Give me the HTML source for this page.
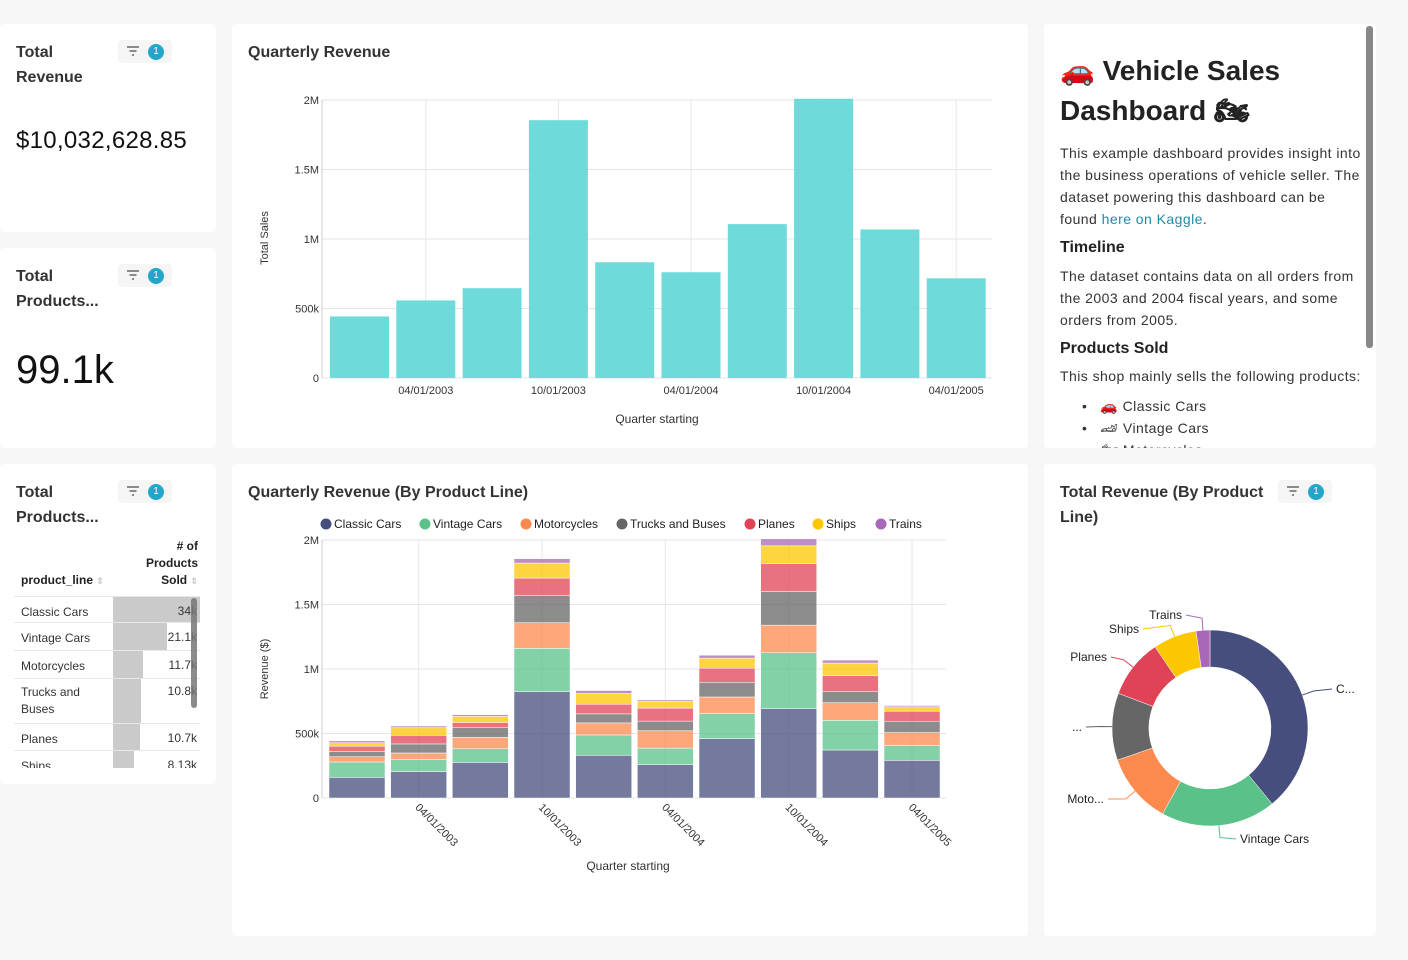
<!DOCTYPE html>
<html><head><meta charset="utf-8">
<style>
*{box-sizing:border-box;margin:0;padding:0}
body{width:1408px;height:960px;background:#f7f7f7;font-family:"Liberation Sans",sans-serif;color:#222;position:relative;overflow:hidden}
.card{position:absolute;background:#fff;border-radius:4px}
.title{position:absolute;font-size:16px;font-weight:bold;line-height:25px;color:#333}
.fbadge{position:absolute;width:54px;height:23px;background:#f5f5f5;border-radius:4px}
.fbadge .fi{position:absolute;left:8px;top:6px;width:14px;height:10px}
.fbadge .num{position:absolute;left:30px;top:4px;width:16px;height:16px;border-radius:50%;background:#20a7c9;color:#fff;font-size:10px;text-align:center;line-height:16px}
.txt{font-size:14px;line-height:22px;color:#333;letter-spacing:0.45px}
svg text{font-family:"Liberation Sans",sans-serif}
.row{position:absolute;left:14px;width:186px;border-bottom:1px solid #e8e8e8;font-size:12px;color:#333}
</style></head><body>

<div class="card" style="left:0;top:24px;width:216px;height:208px">
  <div class="title" style="left:16px;top:16px">Total<br>Revenue</div>
  <div class="fbadge" style="left:118px;top:16px"><svg class="fi" viewBox="0 0 14 10"><path d="M1 1h12M3.5 5h7M6 9h2" stroke="#666" stroke-width="1.6"/></svg><div class="num">1</div></div>
  <div style="position:absolute;left:16px;top:103px;font-size:24px;color:#111;letter-spacing:0.3px">$10,032,628.85</div>
</div>

<div class="card" style="left:0;top:248px;width:216px;height:200px">
  <div class="title" style="left:16px;top:16px">Total<br>Products...</div>
  <div class="fbadge" style="left:118px;top:16px"><svg class="fi" viewBox="0 0 14 10"><path d="M1 1h12M3.5 5h7M6 9h2" stroke="#666" stroke-width="1.6"/></svg><div class="num">1</div></div>
  <div style="position:absolute;left:16px;top:100px;font-size:40px;color:#111">99.1k</div>
</div>

<div class="card" style="left:0;top:464px;width:216px;height:320px;overflow:hidden">
  <div class="title" style="left:16px;top:16px">Total<br>Products...</div>
  <div class="fbadge" style="left:118px;top:16px"><svg class="fi" viewBox="0 0 14 10"><path d="M1 1h12M3.5 5h7M6 9h2" stroke="#666" stroke-width="1.6"/></svg><div class="num">1</div></div>
  <div style="position:absolute;left:21px;top:109px;font-size:12px;font-weight:bold">product_line <span style="color:#ccc;font-size:9px">⇕</span></div>
  <div style="position:absolute;right:18px;top:74px;font-size:12px;font-weight:bold;text-align:right;line-height:17px">#&nbsp;of<br>Products<br>Sold <span style="color:#ccc;font-size:9px">⇕</span></div>
  <div style="position:absolute;left:0;top:0;width:216px;height:304px;overflow:hidden"><div id="rows"></div></div>
  <div style="position:absolute;left:191px;top:134px;width:6px;height:110px;background:#777;border-radius:3px;opacity:0.85"></div>
</div>

<div class="card" style="left:232px;top:24px;width:796px;height:424px">
  <div class="title" style="left:16px;top:16px">Quarterly Revenue</div>
</div>

<div class="card" style="left:1044px;top:24px;width:332px;height:424px;overflow:hidden">
  <div style="position:absolute;left:16px;top:27px;font-size:28px;font-weight:bold;line-height:40px;color:#222">🚗 Vehicle Sales<br>Dashboard 🏍</div>
  <div class="txt" style="position:absolute;left:16px;top:118px;width:304px">This example dashboard provides insight into the business operations of vehicle seller. The dataset powering this dashboard can be found <span style="color:#1f8aa8">here on Kaggle</span>.</div>
  <div style="position:absolute;left:16px;top:215px;font-size:16px;font-weight:bold">Timeline</div>
  <div class="txt" style="position:absolute;left:16px;top:241px;width:304px">The dataset contains data on all orders from the 2003 and 2004 fiscal years, and some orders from 2005.</div>
  <div style="position:absolute;left:16px;top:316px;font-size:16px;font-weight:bold">Products Sold</div>
  <div class="txt" style="position:absolute;left:16px;top:341px;width:310px">This shop mainly sells the following products:</div>
  <div class="txt" style="position:absolute;left:38px;top:371px">•&nbsp;&nbsp;&nbsp;🚗 Classic Cars<br>•&nbsp;&nbsp;&nbsp;🏎 Vintage Cars<br>•&nbsp;&nbsp;&nbsp;🏍 Motorcycles</div>
  <div style="position:absolute;left:322px;top:2px;width:7px;height:322px;background:#888;border-radius:3px"></div>
</div>

<div class="card" style="left:232px;top:464px;width:796px;height:472px">
  <div class="title" style="left:16px;top:16px">Quarterly Revenue (By Product Line)</div>
</div>

<div class="card" style="left:1044px;top:464px;width:332px;height:472px">
  <div class="title" style="left:16px;top:16px">Total Revenue (By Product<br>Line)</div>
  <div class="fbadge" style="left:234px;top:16px"><svg class="fi" viewBox="0 0 14 10"><path d="M1 1h12M3.5 5h7M6 9h2" stroke="#666" stroke-width="1.6"/></svg><div class="num">1</div></div>
</div>

<svg id="chart" width="1408" height="960" style="position:absolute;left:0;top:0"></svg>

<script>
const quarters=["01/01/2003","04/01/2003","07/01/2003","10/01/2003","01/01/2004","04/01/2004","07/01/2004","10/01/2004","01/01/2005","04/01/2005"];
const productLines=["Classic Cars","Vintage Cars","Motorcycles","Trucks and Buses","Planes","Ships","Trains"];
const classicCars=[160,204,276,824,331,258,460,692,372,292];
const vintageCars=[119,96,106,336,158,129,194,434,230,114];
const motorcycles=[41,49,88,199,93,134,129,214,137,101];
const trucksBuses=[41,70,75,212,70,75,114,261,85,88];
const planes=[41,67,41,134,75,101,109,217,124,78];
const ships=[26,59,47,116,83,54,78,137,98,34];
const trains=[15,13,13,34,23,10,23,54,23,10];
const yTicks=[0,500,1000,1500,2000];
const yTickLabels=["0","500k","1M","1.5M","2M"];
const donutValues=[3920,1900,1170,1110,980,720,230];
const donutLabels=["C...","Vintage Cars","Moto...","...","Planes","Ships","Trains"];
const tableNames=["Classic Cars","Vintage Cars","Motorcycles","Trucks and Buses","Planes","Ships"];
const tableValues=[34.0,21.1,11.7,10.8,10.7,8.13];
const tableLabels=["34k","21.1k","11.7k","10.8k","10.7k","8.13k"];

const colors=["#454e7c","#5ac189","#fc8a4f","#666666","#e04355","#fcc700","#a868b7"];
const series=[classicCars,vintageCars,motorcycles,trucksBuses,planes,ships,trains];
const NS="http://www.w3.org/2000/svg";
const svg=document.getElementById('chart');
function mk(tag,attrs,parent){const e=document.createElementNS(NS,tag);for(const k in attrs)e.setAttribute(k,attrs[k]);(parent||svg).appendChild(e);return e;}
function txt(s,attrs,parent){const e=mk('text',attrs,parent);e.textContent=s;return e;}

// ---- Top chart ----
const t1={l:322,r:992,y0:378,y1:100,bl:326,step:66.3,bw:59};
const ty1=v=>t1.y0-v/2000*(t1.y0-t1.y1);
const tx1=i=>t1.bl+i*t1.step+4;
yTicks.forEach((v,k)=>{
  const g=mk('line',{x1:t1.l,x2:t1.r,y1:ty1(v),y2:ty1(v),stroke:'#e6e6e6'});
  
  
  const t=txt(yTickLabels[k],{x:319,y:ty1(v)+4,'font-size':11,'text-anchor':'end',fill:'#333'});
  
  
});
quarters.forEach((q,i)=>{
  const cx=tx1(i)+t1.bw/2;
  if(i%2===1){
    const g=mk('line',{x1:cx,x2:cx,y1:t1.y1,y2:t1.y0,stroke:'#e6e6e6'});
    
    
  }
});
mk('line',{x1:t1.l,x2:t1.l,y1:t1.y1,y2:t1.y0,stroke:'#ccc'});
quarters.forEach((q,i)=>{
  let tot=0;series.forEach(s=>tot+=s[i]);
  const b=mk('rect',{x:tx1(i),y:ty1(tot),width:t1.bw,height:t1.y0-ty1(tot),fill:'#5fd6d6','fill-opacity':0.9});
  
  
  if(i%2===1){
    const t=txt(q,{x:tx1(i)+t1.bw/2,y:394,'font-size':11,'text-anchor':'middle',fill:'#333'});
    
    
  }
});
let e=txt('Total Sales',{x:0,y:0,'font-size':11,'text-anchor':'middle',fill:'#333',transform:'translate(268,238) rotate(-90)'});


e=txt('Quarter starting',{x:657,y:423,'font-size':12,'text-anchor':'middle',fill:'#333'});



// ---- Stacked chart ----
const t2={l:322,r:946,y0:798,y1:540,bl:329,step:61.67,bw:56};
const ty2=v=>t2.y0-v/2000*(t2.y0-t2.y1);
const tx2=i=>t2.bl+i*t2.step;
yTicks.forEach((v,k)=>{
  const g=mk('line',{x1:t2.l,x2:t2.r,y1:ty2(v),y2:ty2(v),stroke:'#e6e6e6'});
  
  
  const t=txt(yTickLabels[k],{x:319,y:ty2(v)+4,'font-size':11,'text-anchor':'end',fill:'#333'});
  
  
});
quarters.forEach((q,i)=>{
  if(i%2===1){const cx=tx2(i)+t2.bw/2;
    const g=mk('line',{x1:cx,x2:cx,y1:t2.y1,y2:t2.y0,stroke:'#e6e6e6'});
    
    }
});
mk('line',{x1:t2.l,x2:t2.l,y1:t2.y1,y2:t2.y0,stroke:'#ccc'});
quarters.forEach((q,i)=>{
  let acc=0;
  series.forEach((s,k)=>{
    const yTop=ty2(acc+s[i]),yBot=ty2(acc);
    const r=mk('rect',{x:tx2(i),y:yTop,width:t2.bw,height:yBot-yTop,fill:colors[k],'fill-opacity':0.75,stroke:'#fff','stroke-width':0.5});
    
    
    acc+=s[i];
  });
  if(i%2===1){const cx=tx2(i)+t2.bw/2;
    const t=txt(q,{x:0,y:0,'font-size':11,fill:'#333',transform:`translate(${cx-4},${808}) rotate(45)`});
    
    }
});
e=txt('Revenue ($)',{x:0,y:0,'font-size':11,'text-anchor':'middle',fill:'#333',transform:'translate(268,669) rotate(-90)'});


e=txt('Quarter starting',{x:628,y:870,'font-size':12,'text-anchor':'middle',fill:'#333'});


const legX=[326,425,526,622,750,818,881];
productLines.forEach((p,k)=>{
  const g=mk('g',{});
  
  
  mk('circle',{cx:legX[k],cy:524,r:5.5,fill:colors[k]},g);
  txt(p,{x:legX[k]+8,y:528,'font-size':12,fill:'#222'},g);
});

// ---- Donut ----
const cx=1210,cy=728,R=98,r0=61;
const total=donutValues.reduce((a,b)=>a+b,0);
let ang=0;
const labelPos=[[1336,693,'start'],[1240,843,'start'],[1104,803,'end'],[1082,731,'end'],[1107,661,'end'],[1139,633,'end'],[1182,619,'end']];
donutValues.forEach((v,k)=>{
  const a0=ang,a1=ang+v/total*2*Math.PI;ang=a1;
  const p=(a,rr)=>[cx+rr*Math.sin(a),cy-rr*Math.cos(a)];
  const large=(a1-a0)>Math.PI?1:0;
  const [x0,y0]=p(a0,R),[x1,y1]=p(a1,R),[x2,y2]=p(a1,r0),[x3,y3]=p(a0,r0);
  const s=mk('path',{d:`M${x0},${y0}A${R},${R} 0 ${large} 1 ${x1},${y1}L${x2},${y2}A${r0},${r0} 0 ${large} 0 ${x3},${y3}Z`,fill:colors[k],stroke:'#fff','stroke-width':0.5});
  
  
  const am=(a0+a1)/2;const [mx,my]=p(am,R);const [ox,oy]=p(am,R+12);
  const lp=labelPos[k];const ex=lp[2]==='start'?lp[0]-4:lp[0]+4;
  mk('polyline',{points:`${mx},${my} ${ox},${oy} ${ex},${lp[1]-4}`,fill:'none',stroke:colors[k],'stroke-width':1});
  const t=txt(donutLabels[k],{x:lp[0],y:lp[1],'font-size':12,'text-anchor':lp[2],fill:'#222'});
  
  
});

// ---- Table rows ----
const rowsEl=document.getElementById('rows');
const rowTops=[132,159,187,215,260,287];
const rowH=[27,28,28,45,27,28];
const maxV=Math.max(...tableValues);
tableNames.forEach((n,i)=>{
  const d=document.createElement('div');
  d.className='row';
  
  
  d.style.top=rowTops[i]+'px';d.style.height=rowH[i]+'px';
  if(i===0)d.style.borderTop='1px solid #e8e8e8';
  const w=tableValues[i]/maxV*87;
  d.innerHTML=`<div style="position:absolute;left:99px;top:0;width:${w}px;height:100%;background:#cacaca"></div>
  <div style="position:absolute;left:7px;top:${i===3?5:7}px;line-height:17px;width:80px">${n==='Trucks and Buses'?'Trucks and<br>Buses':n}</div>
  <div style="position:absolute;right:3px;top:${i===3?5:7}px">${tableLabels[i]}</div>`;
  rowsEl.appendChild(d);
});
</script>
</body></html>
